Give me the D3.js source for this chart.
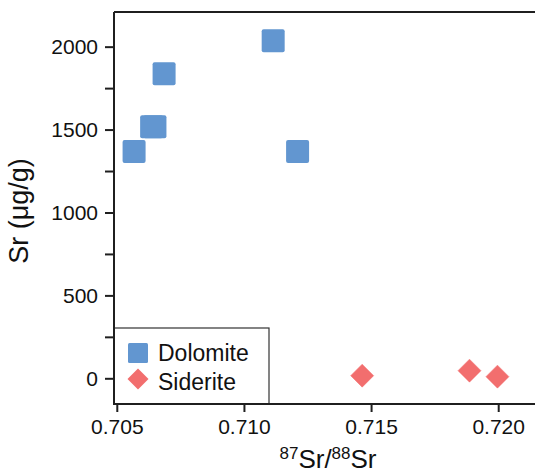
<!DOCTYPE html>
<html>
<head>
<meta charset="utf-8">
<script src="https://cdn.jsdelivr.net/npm/d3@7"></script>
<style>
  html, body { margin: 0; padding: 0; background: #fff; }
  svg { display: block; font-family: "Liberation Sans", Arial, sans-serif; }
</style>
</head>
<body>
<svg id="chart" width="535" height="475"></svg>
<script>
// Sr concentration vs 87Sr/88Sr ratio for two carbonate phases
const dolomiteRatio = [0.71115, 0.70686, 0.70637, 0.70650, 0.70568, 0.71211];
const dolomiteSr    = [2036, 1836, 1517, 1517, 1367, 1367];
const sideriteRatio = [0.71465, 0.71887, 0.71997];
const sideriteSr    = [16, 46, 10];

const xTicks = [0.705, 0.710, 0.715, 0.720];
const yMajorTicks = [0, 500, 1000, 1500, 2000];
const yMinorTicks = [250, 750, 1250, 1750];
const seriesNames = ["Dolomite", "Siderite"];

const blue = "#6296d0";
const red = "#f26e6e";
const ink = "#1f1f1f";

const svg = d3.select("#chart");
const plotL = 114, plotT = 12, plotB = 404, plotR = 545;

const x = d3.scaleLinear().domain([0.70489, 0.72184]).range([plotL, plotR]);
const y = d3.scaleLinear().domain([-155, 2209]).range([plotB, plotT]);

// frame: top border runs past the right edge of the view
svg.append("line")
  .attr("x1", plotL).attr("x2", plotR + 10)
  .attr("y1", plotT).attr("y2", plotT)
  .attr("stroke", ink).attr("stroke-width", 2);

// y axis
const yAxis = svg.append("g")
  .attr("transform", `translate(${plotL},0)`)
  .call(d3.axisLeft(y).tickValues(yMajorTicks.concat(yMinorTicks))
    .tickSize(9).tickPadding(7)
    .tickFormat(d => yMajorTicks.includes(d) ? d3.format("d")(d) : ""));
yAxis.select(".domain").attr("d", `M0,${plotT}V${plotB + 1}`);

// x axis
const xAxis = svg.append("g")
  .attr("transform", `translate(0,${plotB})`)
  .call(d3.axisBottom(x).tickValues(xTicks).tickSize(8).tickPadding(7)
    .tickFormat(d3.format(".3f")));
xAxis.select(".domain").attr("d", `M${plotL - 1},0H${plotR + 10}`);

[yAxis, xAxis].forEach(g => {
  g.select(".domain").attr("stroke", ink).attr("stroke-width", 2).attr("fill", "none");
  g.selectAll(".tick line").attr("stroke", ink).attr("stroke-width", 2);
  g.selectAll(".tick text").attr("fill", "#111").style("font-size", "21px")
    .style("font-family", "'Liberation Sans', Arial, sans-serif");
});

// axis titles
svg.append("text")
  .attr("transform", "translate(28,211) rotate(-90)")
  .attr("text-anchor", "middle")
  .style("font-size", "27px").attr("fill", "#111")
  .text("Sr (μg/g)");

const xt = svg.append("text")
  .attr("x", 328).attr("y", 468)
  .attr("text-anchor", "middle")
  .style("font-size", "26px").attr("fill", "#111");
xt.append("tspan").attr("dy", -9).style("font-size", "17px").text("87");
xt.append("tspan").attr("dy", 9).text("Sr/");
xt.append("tspan").attr("dy", -9).style("font-size", "17px").text("88");
xt.append("tspan").attr("dy", 9).text("Sr");

// markers
const sq = 23;
const dolomite = dolomiteRatio.map((r, i) => ({ r, sr: dolomiteSr[i] }));
const siderite = sideriteRatio.map((r, i) => ({ r, sr: sideriteSr[i] }));

svg.append("g").selectAll("rect").data(dolomite).join("rect")
  .attr("x", d => x(d.r) - sq / 2)
  .attr("y", d => y(d.sr) - sq / 2)
  .attr("width", sq).attr("height", sq)
  .attr("rx", 2)
  .attr("fill", blue);

const diamond = (cx, cy, h) => `M${cx},${cy - h}L${cx + h},${cy}L${cx},${cy + h}L${cx - h},${cy}Z`;
svg.append("g").selectAll("path").data(siderite).join("path")
  .attr("d", d => diamond(x(d.r), y(d.sr), 11.5))
  .attr("fill", red)
  .attr("stroke", red).attr("stroke-width", 0.5)
  .attr("stroke-linejoin", "round");

// legend
const lg = svg.append("g");
lg.append("rect")
  .attr("x", plotL).attr("y", 328)
  .attr("width", 155).attr("height", plotB - 328)
  .attr("fill", "#fff").attr("stroke", "#333").attr("stroke-width", 1.2);
lg.append("rect")
  .attr("x", 128).attr("y", 343).attr("width", 20).attr("height", 20)
  .attr("rx", 1.5).attr("fill", blue);
lg.append("path").attr("d", diamond(138, 379, 10.5)).attr("fill", red);
lg.selectAll("text").data(seriesNames).join("text")
  .attr("x", 158).attr("y", (d, i) => 361 + i * 28.5)
  .style("font-size", "23px").attr("fill", "#111")
  .text(d => d);

// redraw the axis lines over the legend border
svg.append("line").attr("x1", plotL).attr("x2", plotL).attr("y1", plotT).attr("y2", plotB + 1)
  .attr("stroke", ink).attr("stroke-width", 2);
svg.append("line").attr("x1", plotL - 1).attr("x2", plotR + 10).attr("y1", plotB).attr("y2", plotB)
  .attr("stroke", ink).attr("stroke-width", 2);
</script>
</body>
</html>
